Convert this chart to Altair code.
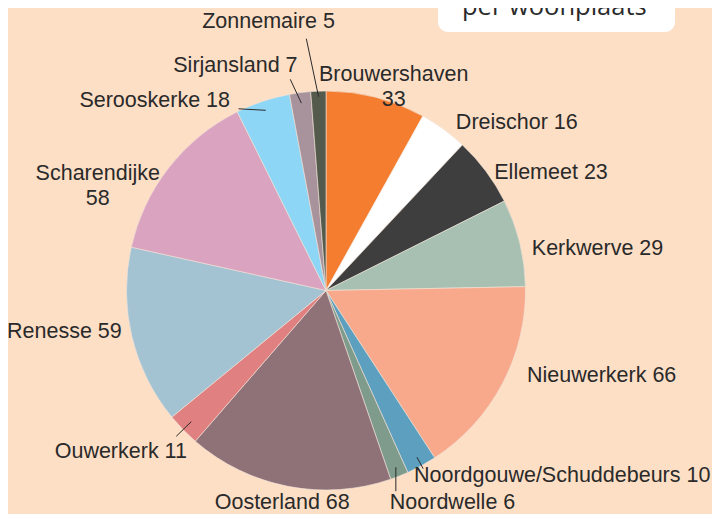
import math
import altair as alt
import pandas as pd

# ---- data ----
places = ["Brouwershaven", "Dreischor", "Ellemeet", "Kerkwerve", "Nieuwerkerk",
          "Noordgouwe/Schuddebeurs", "Noordwelle", "Oosterland", "Ouwerkerk",
          "Renesse", "Scharendijke", "Serooskerke", "Sirjansland", "Zonnemaire"]
counts = [33, 16, 23, 29, 66, 10, 6, 68, 11, 59, 58, 18, 7, 5]
colors = ["#F47D30", "#FFFFFF", "#3E3E3E", "#A8C0B1", "#F8A98B", "#5C9FBE",
          "#7F9B8B", "#8E7278", "#E08080", "#A3C2D2", "#DAA3BF", "#8ED6F6",
          "#A8939D", "#545B4D"]
label_texts = ["Brouwershaven\n33", "Dreischor 16", "Ellemeet 23", "Kerkwerve 29",
               "Nieuwerkerk 66", "Noordgouwe/Schuddebeurs 10", "Noordwelle 6",
               "Oosterland 68", "Ouwerkerk 11", "Renesse 59", "Scharendijke\n58",
               "Serooskerke 18", "Sirjansland 7", "Zonnemaire 5"]

# ---- layout (styling, not data) ----
W, H = 704, 506
CX, CY, R = 318, 282.5, 199.5
# label: radius along slice mid-angle, alignment, nudge (dx, dy; dy downwards)
label_radius = [226, 212, 210, 212, 215, 213, 228, 224, 215, 212, 215, 205, 226, 272]
label_align = ["center", "left", "left", "left", "left", "left", "left", "center",
               "right", "right", "center", "right", "right", "center"]
label_nudge = [(11, 3), (5, 4), (0, 8), (0, 9), (11, -15), (-14, -1), (-20, 0), (-1, -7),
               (15, 12), (2, -8), (-59, 16), (-31, 5), (1, 0), (-47, 3)]
# leader: (inner radius, outer radius, outer dx, outer dy)
leader = [None, None, None, None, None, (190, 203, 0, 0), (190, 190, 0, 24), None,
          (188, 209, 0, 0), None, None, (190, 200, -24, 8), (189, 213, -8, 0),
          (194, 252, -10, 0)]

total = sum(counts)
rows = []
cum = 0
for i, (p, c) in enumerate(zip(places, counts)):
    mid = (cum + c / 2) / total * 2 * math.pi
    cum += c
    s, co = math.sin(mid), math.cos(mid)
    r = label_radius[i]
    ndx, ndy = label_nudge[i]
    row = dict(place=p, count=c, order=i, label=label_texts[i], align=label_align[i],
               lx=r * s + ndx, ly=r * co - ndy)
    if leader[i]:
        r0, r1, ldx, ldy = leader[i]
        row.update(x0=r0 * s, y0=r0 * co, x1=r1 * s + ldx, y1=r1 * co - ldy,
                   has_leader=True)
    else:
        row.update(x0=0.0, y0=0.0, x1=0.0, y1=0.0, has_leader=False)
    rows.append(row)
df = pd.DataFrame(rows)

xs = alt.Scale(domain=[-CX, W - CX], nice=False, zero=False)
ys = alt.Scale(domain=[-(H - CY), CY], nice=False, zero=False)

pie = alt.Chart(df).mark_arc(outerRadius=R, stroke="#f1e4da", strokeWidth=0.6).encode(
    theta=alt.Theta("count:Q", stack=True),
    color=alt.Color("place:N", scale=alt.Scale(domain=places, range=colors), legend=None),
    order=alt.Order("order:Q"),
    x=alt.value(CX), y=alt.value(CY),
)

rules = alt.Chart(df).transform_filter("datum.has_leader").mark_rule(
    color="#2a2a2a", strokeWidth=1).encode(
    x=alt.X("x0:Q", scale=xs, axis=None), y=alt.Y("y0:Q", scale=ys, axis=None),
    x2="x1:Q", y2="y1:Q",
)

def text_layer(al):
    return alt.Chart(df).transform_filter(f"datum.align == '{al}'").mark_text(
        align=al, baseline="middle", font="Liberation Sans", fontSize=21.5,
        color="#2a2a2a", lineBreak="\n", lineHeight=25).encode(
        x=alt.X("lx:Q", scale=xs, axis=None), y=alt.Y("ly:Q", scale=ys, axis=None),
        text="label:N")

box = alt.Chart(df).transform_filter("datum.order == 0").mark_rect(
    color="white", cornerRadius=10).encode(
    x=alt.value(430), x2=alt.value(667), y=alt.value(-20), y2=alt.value(24))
box_text = alt.Chart(df).transform_filter("datum.order == 0").mark_text(
    align="left", baseline="alphabetic", font="Open Sans", fontSize=25.5,
    color="#2a2a2a").encode(x=alt.value(454), y=alt.value(7),
                             text=alt.value("per woonplaats"))

chart = alt.layer(pie, rules, text_layer("left"), text_layer("right"),
                  text_layer("center"), box, box_text).properties(
    width=W, height=H, background="#FDDFC6", padding=0,
    autosize=alt.AutoSizeParams(type="none"),
).configure_view(stroke=None)

chart.save("out.html", embed_options={"renderer": "svg", "actions": False})
